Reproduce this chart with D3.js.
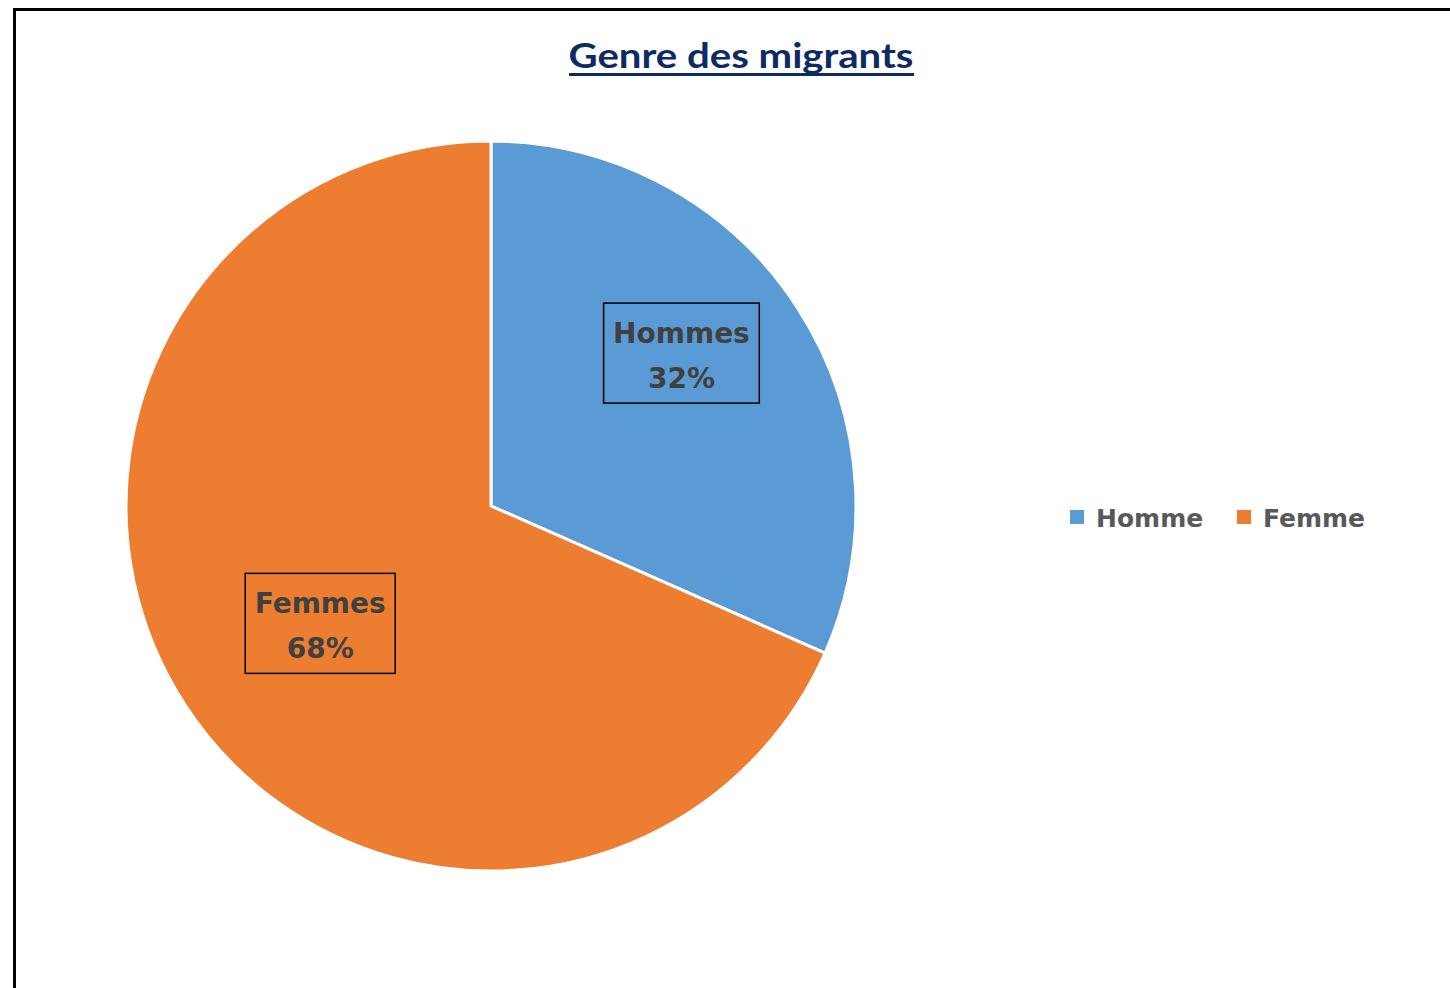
<!DOCTYPE html>
<html>
<head>
<meta charset="utf-8">
<script src="https://cdn.jsdelivr.net/npm/d3@7"></script>
<style>
  body { margin: 0; background: #fff; }
  svg { display: block; font-family: "DejaVu Sans", Verdana, sans-serif; }
</style>
</head>
<body>
<svg id="chart" width="1450" height="988"></svg>
<script>
  // chart data
  const categories = ["Homme", "Femme"]
  const values = [31.6, 68.4]
  const sliceLabels = ["Hommes", "Femmes"]
  const colors = ["#5B9BD5", "#ED7D31"]

  const svg = d3.select("#chart")
  const cx = 491, cy = 506, radius = 365

  // outer frame (runs off the right and bottom)
  svg.append("rect")
      .attr("x", 14.5).attr("y", 9.5)
      .attr("width", 1500).attr("height", 1100)
      .attr("fill", "#fff")
      .attr("stroke", "#000")
      .attr("stroke-width", 3)

  // title
  svg.append("text")
      .attr("x", 741).attr("y", 68)
      .attr("text-anchor", "middle")
      .attr("font-family", "Lato, sans-serif")
      .attr("font-size", 35)
      .attr("font-weight", "bold")
      .attr("fill", "#0d2b63")
      .attr("textLength", 345)
      .attr("lengthAdjust", "spacingAndGlyphs")
      .text("Genre des migrants")
  svg.append("line")
      .attr("x1", 569).attr("x2", 914)
      .attr("y1", 74.5).attr("y2", 74.5)
      .attr("stroke", "#0d2b63")
      .attr("stroke-width", 3)

  const data = categories.map((c, i) => ({ cat: c, value: values[i], label: sliceLabels[i], color: colors[i] }))

  const pie = d3.pie().value(d => d.value).sort(null)
  const arc = d3.arc().innerRadius(0).outerRadius(radius)

  const g = svg.append("g").attr("transform", `translate(${cx},${cy})`)

  g.selectAll("path")
      .data(pie(data))
      .enter().append("path")
      .attr("d", arc)
      .attr("fill", d => d.data.color)
      .attr("stroke", "#fff")
      .attr("stroke-width", 3)
      .attr("stroke-linejoin", "round")

  // label placement: radius as fraction of pie radius, angle shift (rad)
  const labelPlace = [
      { r: 0.67, shift: -0.10 },
      { r: 0.567, shift: -0.022 }
  ]

  const labels = g.selectAll(".lbl")
      .data(pie(data))
      .enter().append("g")
      .attr("class", "lbl")
      .attr("transform", (d, i) => {
          const a = (d.startAngle + d.endAngle) / 2 + labelPlace[i].shift
          const rr = radius * labelPlace[i].r
          return `translate(${rr * Math.sin(a)},${-rr * Math.cos(a)})`
      })

  labels.each(function(d) {
      const el = d3.select(this)
      const t = el.append("text")
          .attr("text-anchor", "middle")
          .attr("font-size", 28)
          .attr("font-weight", "bold")
          .attr("fill", "#404040")
      t.append("tspan").attr("x", 0).attr("y", -10).text(d.data.label)
      t.append("tspan").attr("x", 0).attr("y", 35).text(Math.round(d.data.value) + "%")
      const bb = t.node().getBBox()
      el.insert("rect", "text")
          .attr("x", -(bb.width / 2) - 9.5)
          .attr("y", -49.5)
          .attr("width", bb.width + 19)
          .attr("height", 100)
          .attr("fill", "none")
          .attr("stroke", "#000")
          .attr("stroke-width", 1.5)
  })

  // legend
  const legend = svg.append("g").attr("transform", "translate(1070, 517)")
  const legendX = [0, 167]
  const items = legend.selectAll(".legend-item")
      .data(data)
      .enter().append("g")
      .attr("class", "legend-item")
      .attr("transform", (d, i) => `translate(${legendX[i]},0)`)
  items.append("rect")
      .attr("x", 0).attr("y", -7)
      .attr("width", 14).attr("height", 14)
      .attr("fill", d => d.color)
  items.append("text")
      .attr("x", 26).attr("y", 10)
      .attr("font-size", 25)
      .attr("font-weight", "bold")
      .attr("fill", "#595959")
      .text(d => d.cat)
</script>
</body>
</html>
